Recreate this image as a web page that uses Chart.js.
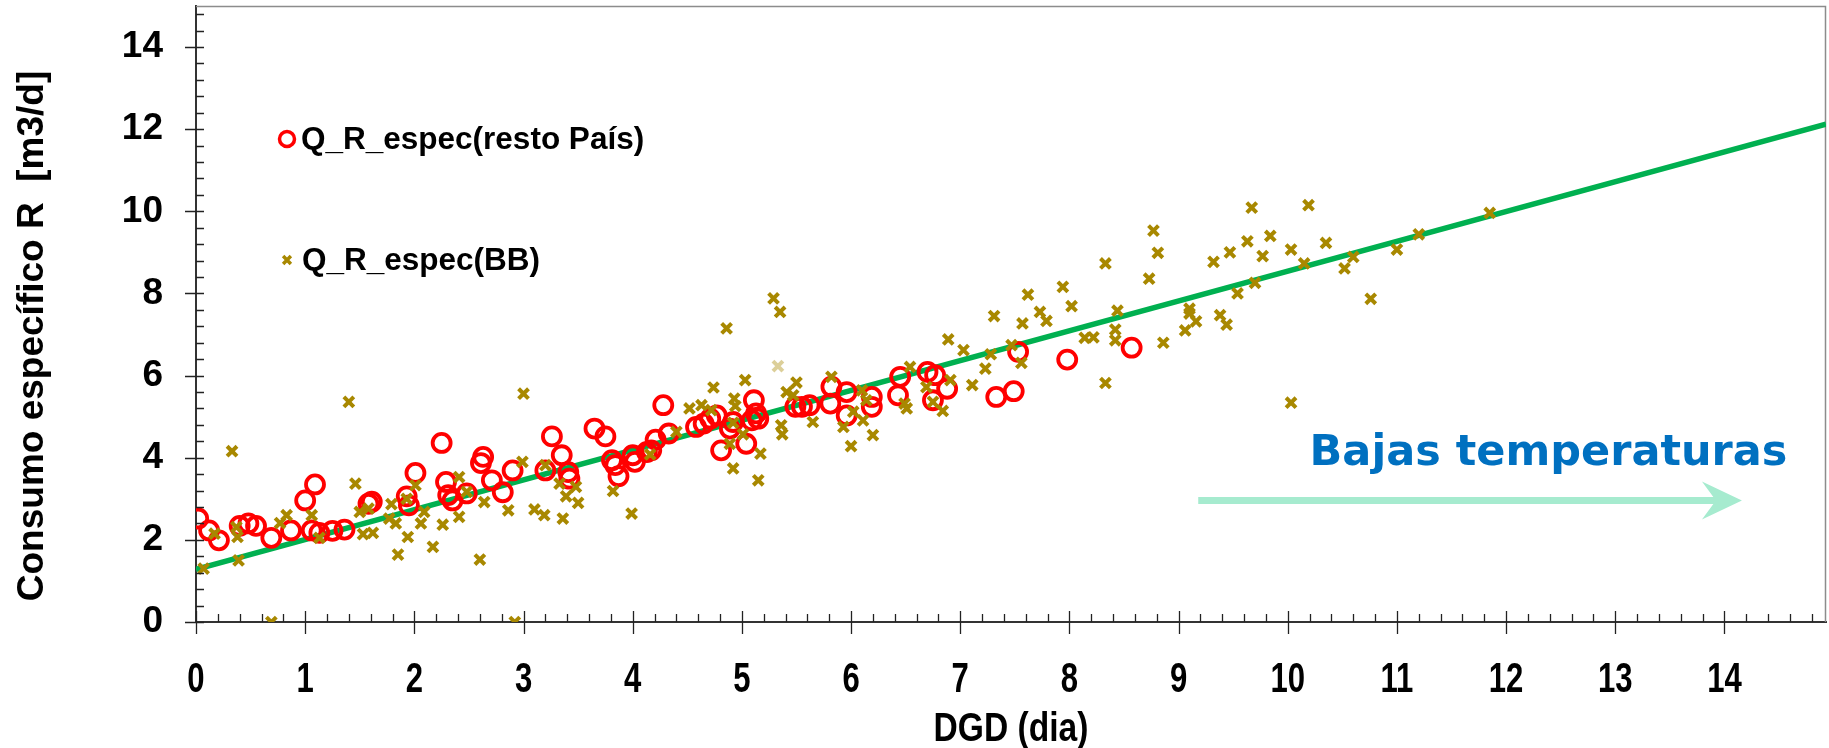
<!DOCTYPE html>
<html><head><meta charset="utf-8">
<script src="https://cdn.jsdelivr.net/npm/chart.js@4.4.1/dist/chart.umd.min.js"></script>
<style>html,body{margin:0;padding:0;background:#fff;}#wrap{width:1829px;height:748px;position:relative;}canvas{display:block;}</style>
</head><body><div id="wrap"><canvas id="c" width="1829" height="748" style="width:1829px;height:748px"></canvas></div>
<script>
// ---- data ----
const restoX = [0.02,0.12,0.21,0.40,0.48,0.55,0.69,0.87,1.00,1.06,1.09,1.13,1.25,1.36,1.58,1.61,1.93,1.95,2.01,2.25,2.29,2.31,2.35,2.48,2.61,2.63,2.71,2.81,2.90,3.20,3.26,3.35,3.41,3.42,3.65,3.75,3.81,3.84,3.87,4.00,4.02,4.13,4.17,4.21,4.28,4.33,4.58,4.65,4.71,4.77,4.81,4.89,4.92,5.04,5.09,5.11,5.13,5.15,5.49,5.55,5.62,5.81,5.82,5.96,5.96,6.19,6.19,6.45,6.43,6.70,6.77,6.88,6.75,7.33,7.49,7.53,7.98,8.57];
const restoY = [2.52,2.23,1.99,2.34,2.40,2.34,2.05,2.23,2.96,2.23,3.35,2.17,2.22,2.25,2.88,2.93,3.06,2.84,3.63,4.36,3.41,3.09,2.96,3.13,3.87,4.02,3.45,3.16,3.69,3.69,4.52,4.06,3.65,3.49,4.71,4.52,3.94,3.82,3.55,4.06,3.90,4.14,4.18,4.44,5.28,4.59,4.75,4.83,4.95,5.03,4.18,4.71,4.87,4.34,4.91,5.40,5.08,4.95,5.24,5.24,5.28,5.32,5.73,5.60,5.03,5.48,5.24,5.97,5.52,6.09,6.01,5.68,5.40,5.48,5.62,6.58,6.39,6.68];
const bbX = [0.07,0.17,0.33,0.37,0.38,0.39,0.69,0.77,0.83,1.06,1.13,1.40,1.46,1.50,1.53,1.58,1.62,1.77,1.79,1.83,1.85,1.93,1.94,2.01,2.06,2.09,2.17,2.26,2.41,2.41,2.48,2.60,2.64,2.86,2.92,2.99,3.00,3.10,3.19,3.20,3.33,3.36,3.39,3.48,3.50,3.82,3.99,4.16,4.40,4.52,4.63,4.72,4.74,4.86,4.89,4.92,4.92,4.93,4.94,5.01,5.03,5.15,5.17,5.29,5.35,5.36,5.37,5.41,5.47,5.50,5.65,5.82,5.93,6.00,6.02,6.10,6.11,6.14,6.20,6.49,6.51,6.54,6.69,6.75,6.84,6.89,6.91,7.03,7.11,7.23,7.28,7.31,7.47,7.56,7.57,7.62,7.73,7.79,7.94,8.02,8.14,8.22,8.33,8.33,8.42,8.42,8.44,8.73,8.77,8.81,8.86,9.06,9.10,9.10,9.16,9.32,9.38,9.44,9.47,9.54,9.63,9.67,9.70,9.77,9.84,10.03,10.03,10.15,10.19,10.35,10.52,10.60,10.76,11.00,11.20,11.85];
const bbY = [1.30,2.15,4.16,2.31,2.07,1.50,0.00,2.41,2.60,2.60,2.05,5.36,3.37,2.68,2.14,2.76,2.17,2.52,2.87,2.40,1.64,3.00,2.07,3.33,2.40,2.68,1.83,2.37,3.53,2.56,3.17,1.52,2.92,2.72,0.00,3.90,5.56,2.74,2.60,3.82,3.37,2.52,3.06,3.29,2.90,3.19,2.64,4.08,4.63,5.20,5.28,5.16,5.71,7.15,4.34,3.74,4.85,5.44,5.26,4.57,5.89,3.45,4.10,7.88,7.55,4.79,4.57,5.60,5.52,5.83,4.87,5.97,4.75,4.28,5.12,5.64,4.91,5.40,4.55,5.32,5.20,6.21,5.72,5.36,5.14,6.88,5.89,6.62,5.77,6.17,6.52,7.45,6.74,6.31,7.27,7.97,7.55,7.33,8.16,7.69,6.92,6.93,8.73,5.82,7.12,6.86,7.58,8.36,9.53,8.99,6.80,7.10,7.63,7.51,7.32,8.77,7.47,7.24,9.00,8.00,9.27,10.09,8.26,8.91,9.40,9.07,5.34,8.73,10.15,9.23,8.61,8.89,7.87,9.07,9.44,9.96];
const bbFadedX = [5.33];
const bbFadedY = [6.23];
const trendX = [0, 14.93];
const trendY = [1.28, 12.12];
const xTickLabels = [0,1,2,3,4,5,6,7,8,9,10,11,12,13,14];
const yTickLabels = [0,2,4,6,8,10,12,14];
const xRange = [0, 14.93];
const yRange = [0, 15];
const seriesNames = ['Q_R_espec(resto País)', 'Q_R_espec(BB)'];
const xTitle = 'DGD (dia)';
const yTitle = 'Consumo específico R  [m3/d]';
const noteText = 'Bajas temperaturas';
const noteAt = [10.2, 3.82];
const arrowFrom = [9.18, 2.96];
const arrowTo = [14.16, 2.96];

// ---- styles ----
const RED = '#FF0000', OLIVE = '#A88800', GREEN = '#00B050';
const BOLD = "'Liberation Sans', Arial, sans-serif";

const pts = (xs, ys) => xs.map((x, i) => ({x, y: ys[i]}));

function squeezedText(ctx, text, px, py, sx, font, align, baseline, rot) {
  ctx.save();
  ctx.translate(px, py);
  if (rot) ctx.rotate(rot);
  ctx.scale(sx, 1);
  ctx.font = font;
  ctx.textAlign = align;
  ctx.textBaseline = baseline;
  ctx.fillText(text, 0, 0);
  ctx.restore();
}

const frameAndTicks = {
  id: 'frameAndTicks',
  beforeDatasetsDraw(chart) {
    const {ctx, chartArea: a} = chart;
    ctx.save();
    ctx.strokeStyle = '#8c8c8c';
    ctx.lineWidth = 1.5;
    ctx.beginPath();
    ctx.moveTo(a.left, a.top + 0.5); ctx.lineTo(a.right - 0.5, a.top + 0.5); ctx.lineTo(a.right - 0.5, a.bottom);
    ctx.stroke();
    ctx.restore();
  },
  afterDraw(chart) {
    const {ctx, chartArea: a, scales: {x, y}} = chart;
    ctx.save();
    ctx.strokeStyle = '#222';
    ctx.lineWidth = 1.3;
    ctx.beginPath();
    const nx = Math.floor(xRange[1] / 0.2 + 1e-6);
    for (let i = 0; i <= nx; i++) {
      const v = i * 0.2;
      const px = Math.round(x.getPixelForValue(v)) + 0.5;
      const major = Math.abs(v - Math.round(v)) < 1e-6;
      ctx.moveTo(px, a.bottom - (major ? 11 : 8));
      ctx.lineTo(px, a.bottom + (major ? 12 : 0));
    }
    const ny = Math.floor(yRange[1] / 0.4 + 1e-6);
    for (let i = 0; i <= ny; i++) {
      const v = i * 0.4;
      const py = Math.round(y.getPixelForValue(v)) + 0.5;
      ctx.moveTo(a.left, py);
      ctx.lineTo(a.left + 8, py);
    }
    yTickLabels.forEach(v => {
      const py = Math.round(y.getPixelForValue(v)) + 0.5;
      ctx.moveTo(a.left - 11, py);
      ctx.lineTo(a.left + 8, py);
    });
    ctx.stroke();

    // x tick labels (condensed bold), placed by the x scale
    ctx.fillStyle = '#000';
    x.ticks.forEach(t => {
      squeezedText(ctx, String(t.value), x.getPixelForValue(t.value), 692, 0.74,
        'bold 42px ' + BOLD, 'center', 'alphabetic', 0);
    });
    // axis titles
    squeezedText(ctx, xTitle, (a.left + a.right) / 2, 741, 0.84, 'bold 40px ' + BOLD, 'center', 'alphabetic', 0);
    squeezedText(ctx, yTitle, 33, 336, 1.0, 'bold 37px ' + BOLD, 'center', 'middle', -Math.PI / 2);

    // legend
    const ds = chart.data.datasets;
    const H = Chart.helpers;
    const items = [
      {d: ds[1], px: 287, py: 139, r: 7.5, bw: 3.5, tx: 301},
      {d: ds[0], px: 287, py: 260, r: 5.5, bw: 3.5, tx: 302}
    ];
    items.forEach(it => {
      ctx.strokeStyle = it.d.borderColor;
      ctx.fillStyle = 'rgba(0,0,0,0)';
      ctx.lineWidth = it.bw;
      H.drawPoint(ctx, {pointStyle: it.d.pointStyle, radius: it.r, rotation: 0, borderWidth: it.bw}, it.px, it.py);
      ctx.fillStyle = '#000';
      ctx.font = 'bold 31.5px ' + BOLD;
      ctx.textBaseline = 'middle';
      ctx.textAlign = 'left';
      ctx.fillText(it.d.label, it.tx, it.py + 1);
    });

    // annotation arrow + text
    const x0 = x.getPixelForValue(arrowFrom[0]), y0 = y.getPixelForValue(arrowFrom[1]);
    const x1 = x.getPixelForValue(arrowTo[0]), y1 = y.getPixelForValue(arrowTo[1]);
    ctx.strokeStyle = '#A6EBCF';
    ctx.fillStyle = '#A6EBCF';
    ctx.lineWidth = 7;
    ctx.beginPath();
    ctx.moveTo(x0, y0); ctx.lineTo(x1 - 24, y1);
    ctx.stroke();
    ctx.beginPath();
    ctx.moveTo(x1, y1); ctx.lineTo(x1 - 40, y1 - 19); ctx.lineTo(x1 - 26, y1); ctx.lineTo(x1 - 40, y1 + 19);
    ctx.closePath(); ctx.fill();
    ctx.fillStyle = '#0070C0';
    ctx.font = "bold 43px 'DejaVu Sans', Verdana, sans-serif";
    ctx.textAlign = 'left';
    ctx.textBaseline = 'alphabetic';
    ctx.fillText(noteText, x.getPixelForValue(noteAt[0]), y.getPixelForValue(noteAt[1]));
    ctx.restore();
  }
};

new Chart(document.getElementById('c'), {
  type: 'scatter',
  data: {
    datasets: [
      {label: seriesNames[1], data: pts(bbX, bbY), order: 0, pointStyle: 'crossRot',
       borderColor: OLIVE, backgroundColor: OLIVE, pointRadius: 7, pointBorderWidth: 4},
      {label: seriesNames[0], data: pts(restoX, restoY), order: 1, pointStyle: 'circle',
       borderColor: RED, backgroundColor: 'rgba(0,0,0,0)', pointRadius: 9, pointBorderWidth: 3.8},
      {label: 'BB', data: pts(bbFadedX, bbFadedY), order: 0, pointStyle: 'crossRot',
       borderColor: 'rgba(168,136,0,0.4)', pointRadius: 7, pointBorderWidth: 4},
      {label: 'tendencia', data: pts(trendX, trendY), type: 'line', order: 2, showLine: true,
       borderColor: GREEN, borderWidth: 5.5, pointRadius: 0, fill: false}
    ]
  },
  options: {
    responsive: false,
    maintainAspectRatio: false,
    animation: false,
    devicePixelRatio: 1,
    layout: {autoPadding: false, padding: {top: 6, right: 3, left: 0, bottom: 0}},
    plugins: {legend: {display: false}, tooltip: {enabled: false}},
    scales: {
      x: {
        type: 'linear', min: xRange[0], max: xRange[1],
        afterBuildTicks: s => { s.ticks = xTickLabels.map(v => ({value: v})); },
        afterFit: s => { s.height = 126; s.paddingLeft = 0; s.paddingRight = 0; },
        grid: {display: false, drawTicks: false},
        border: {display: true, color: '#333', width: 2},
        ticks: {display: false},
        title: {display: false, text: xTitle}
      },
      y: {
        type: 'linear', min: yRange[0], max: yRange[1],
        afterBuildTicks: s => { s.ticks = yTickLabels.map(v => ({value: v})); },
        afterFit: s => { s.width = 196; s.paddingTop = 0; s.paddingBottom = 0; },
        grid: {display: false, drawTicks: false},
        border: {display: true, color: '#333', width: 2},
        ticks: {color: '#000', padding: 33, autoSkip: false,
                font: {family: BOLD, size: 37, weight: 'bold'}},
        title: {display: false, text: yTitle}
      }
    }
  },
  plugins: [frameAndTicks]
});
</script>
</body></html>
